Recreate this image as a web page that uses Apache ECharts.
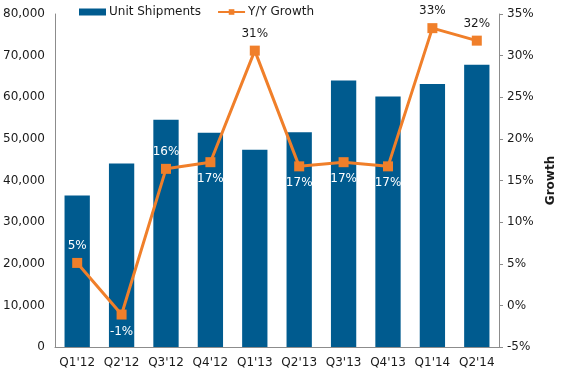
<!DOCTYPE html>
<html><head><meta charset="utf-8">
<script src="https://cdn.jsdelivr.net/npm/echarts@6/dist/echarts.min.js"></script>
<style>html,body{margin:0;padding:0;background:#fff}#c{width:565px;height:371px}</style>
</head><body><div id="c"></div>
<script>
var categories = ["Q1'12","Q2'12","Q3'12","Q4'12","Q1'13","Q2'13","Q3'13","Q4'13","Q1'14","Q2'14"];
var shipments = [36400, 44100, 54600, 51500, 47400, 51600, 64000, 60200, 63200, 67800];
var growth = [5.1, -1.1, 16.4, 17.2, 30.6, 16.7, 17.2, 16.7, 33.3, 31.8];
var growthLabels = ['5%','-1%','16%','17%','31%','17%','17%','17%','33%','32%'];
var leftTicks = [0, 80000, 10000];
var rightTicks = [-5, 35, 5];

var FONT = '"DejaVu Sans", Verdana, sans-serif';
var below = {1:1,3:1,5:1,6:1,7:1};
var dark = {4:1,8:1,9:1};
var lineData = growth.map(function(v,i){
  return {value:v, label:{position: below[i]?'bottom':'top', color: dark[i]?'#1a1a1a':'#ffffff', distance: 6}};
});

var chart = echarts.init(document.getElementById('c'), null, {renderer:'canvas'});
chart.setOption({
  animation:false,
  textStyle:{fontFamily:FONT},
  legend:{
    top:1, left:74, itemWidth:27, itemHeight:7, itemGap:16,
    textStyle:{fontFamily:FONT, fontSize:12, color:'#1a1a1a', padding:[0,0,0,-2]},
    data:[{name:'Unit Shipments', icon:'rect'},{name:'Y/Y Growth'}]
  },
  grid:{left:54, right:59, top:14, bottom:24},
  xAxis:{
    type:'category', data:categories,
    axisLine:{lineStyle:{color:'#8c8c8c', width:1}},
    axisTick:{show:false},
    axisLabel:{fontFamily:FONT, fontSize:12, color:'#1a1a1a', margin:10, interval:0}
  },
  yAxis:[{
    type:'value', min:leftTicks[0], max:leftTicks[1], interval:leftTicks[2],
    axisLine:{show:true, lineStyle:{color:'#8c8c8c'}},
    axisTick:{show:false},
    splitLine:{show:false},
    axisLabel:{fontFamily:FONT, fontSize:12, color:'#1a1a1a', margin:10,
      formatter:function(v){return v.toLocaleString('en-US');}}
  },{
    type:'value', min:rightTicks[0], max:rightTicks[1], interval:rightTicks[2],
    position:'right', name:'Growth', nameLocation:'middle', nameGap:46, nameRotate:90,
    nameTextStyle:{fontFamily:FONT, fontSize:12, fontWeight:'bold', color:'#1a1a1a'},
    axisLine:{show:true, lineStyle:{color:'#8c8c8c'}},
    axisTick:{show:true, length:4, lineStyle:{color:'#8c8c8c'}},
    splitLine:{show:false},
    axisLabel:{fontFamily:FONT, fontSize:12, color:'#1a1a1a', margin:8, formatter:'{value}%'}
  }],
  series:[{
    name:'Unit Shipments', type:'bar', data:shipments, barWidth:'57%',
    itemStyle:{color:'#005b8f'}
  },{
    name:'Y/Y Growth', type:'line', yAxisIndex:1, data:lineData,
    symbol:'rect', symbolSize:10,
    lineStyle:{color:'#f07f2a', width:3},
    itemStyle:{color:'#f07f2a'},
    label:{show:true, fontFamily:FONT, fontSize:12,
      formatter:function(p){return growthLabels[p.dataIndex];}}
  }]
});
</script></body></html>
